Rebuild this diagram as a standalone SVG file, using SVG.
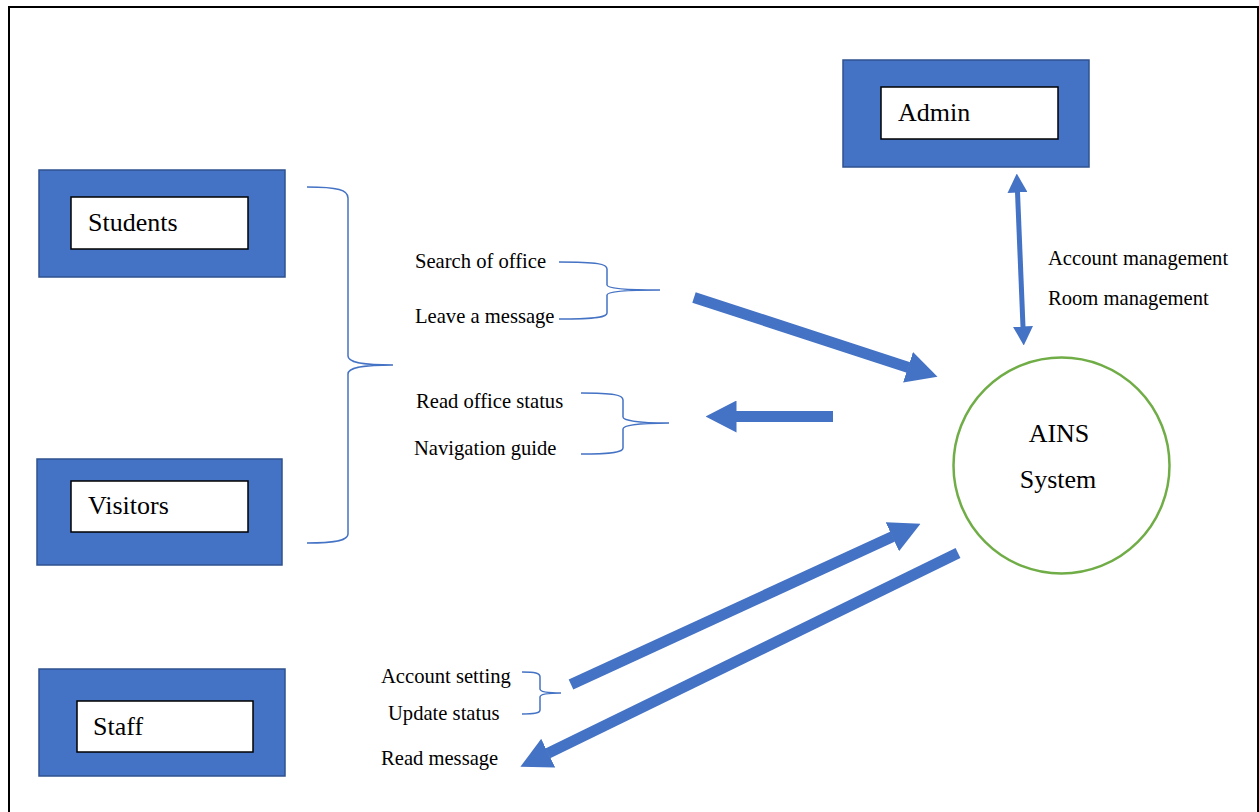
<svg xmlns="http://www.w3.org/2000/svg" width="1259" height="812" viewBox="0 0 1259 812">
  <style>
    .outer { fill: #4472C4; stroke: #2F528F; stroke-width: 1.5; }
    .inner { fill: #FFFFFF; stroke: #000000; stroke-width: 1.5; }
    .name { font-family: "Liberation Serif", "Times New Roman", serif; font-size: 26px; fill: #000000; }
    .lbl { font-family: "Liberation Serif", "Times New Roman", serif; font-size: 20.6px; fill: #000000; }
    .brace { fill: none; stroke: #4472C4; stroke-width: 1.5; }
    .thick { stroke: #4472C4; stroke-width: 11; fill: none; marker-end: url(#headThick); }
    .thin { stroke: #4472C4; stroke-width: 5; fill: none; marker-start: url(#headThin); marker-end: url(#headThin); }
  </style>
  <defs>
    <marker id="headThick" viewBox="0 0 31 32" refX="0.5" refY="16" markerWidth="31" markerHeight="32" markerUnits="userSpaceOnUse" orient="auto">
      <path d="M0,0 L31,16 L0,32 Z" fill="#4472C4"/>
    </marker>
    <marker id="headThin" viewBox="0 0 19 20" refX="0.5" refY="10" markerWidth="19" markerHeight="20" markerUnits="userSpaceOnUse" orient="auto-start-reverse">
      <path d="M0,0 L19,10 L0,20 Z" fill="#4472C4"/>
    </marker>
  </defs>
  <rect x="0" y="0" width="1259" height="812" fill="#FFFFFF"/>
  <rect id="frame" x="9" y="7" width="1249" height="830" fill="none" stroke="#000000" stroke-width="2"/>

  <g id="students">
    <rect class="outer" x="39" y="170" width="246" height="107"/>
    <rect class="inner" x="71" y="197" width="177" height="52"/>
    <text class="name" x="88" y="231">Students</text>
  </g>
  <g id="visitors">
    <rect class="outer" x="37" y="459" width="245" height="106"/>
    <rect class="inner" x="71" y="481" width="177" height="51"/>
    <text class="name" x="88" y="514">Visitors</text>
  </g>
  <g id="staff">
    <rect class="outer" x="39" y="669" width="246" height="107"/>
    <rect class="inner" x="77" y="701" width="176" height="51"/>
    <text class="name" x="93" y="735">Staff</text>
  </g>
  <g id="admin">
    <rect class="outer" x="843" y="60" width="246" height="107"/>
    <rect class="inner" x="881" y="87" width="177" height="52"/>
    <text class="name" x="898" y="121">Admin</text>
  </g>
  <g id="ains">
    <circle cx="1061.5" cy="465.5" r="108" fill="#FFFFFF" stroke="#70AD47" stroke-width="2.5"/>
    <text class="name" x="1059" y="442" text-anchor="middle" font-size="24">AINS</text>
    <text class="name" x="1058" y="488" text-anchor="middle" font-size="24">System</text>
  </g>

  <g id="braces">
    <path class="brace" d="M307,187 C338,187 348,190 348,198 L348,356 C348,362 360,365 393,365 C360,365 348,368 348,374 L348,534 C348,540 338,543 307,543"/>
    <path class="brace" d="M559,262 C598,262 607,264 607,269 L607,285 C607,288 620,290 660,290 C620,290 607,292 607,295 L607,313 C607,317 598,319 559,319"/>
    <path class="brace" d="M581,393 C614,393 623,395 623,400 L623,417 C623,420 635,423 669,423 C635,423 623,426 623,429 L623,448 C623,452 614,454 581,454"/>
    <path class="brace" d="M522,672 C535,672 540,673 540,677 L540,689 C540,691 545,693 561,693 C545,693 540,695 540,697 L540,710 C540,713 535,714 522,714"/>
  </g>

  <g id="labels">
    <text class="lbl" x="415" y="268">Search of office</text>
    <text class="lbl" x="415" y="323">Leave a message</text>
    <text class="lbl" x="416" y="408">Read office status</text>
    <text class="lbl" x="414" y="455">Navigation guide</text>
    <text class="lbl" x="381" y="683">Account setting</text>
    <text class="lbl" x="388" y="720">Update status</text>
    <text class="lbl" x="381" y="765">Read message</text>
    <text class="lbl" x="1048" y="265">Account management</text>
    <text class="lbl" x="1048" y="305">Room management</text>
  </g>

  <g id="connectors">
    <line class="thick" x1="694" y1="297.5" x2="908.5" y2="367.4"/>
    <line class="thick" x1="833" y1="416.5" x2="736" y2="416.5"/>
    <line class="thick" x1="571" y1="684.5" x2="892.8" y2="536.5"/>
    <line class="thick" x1="958" y1="553" x2="547.8" y2="753.4"/>
    <line class="thin" x1="1017.5" y1="192" x2="1023" y2="327"/>
  </g>
</svg>
